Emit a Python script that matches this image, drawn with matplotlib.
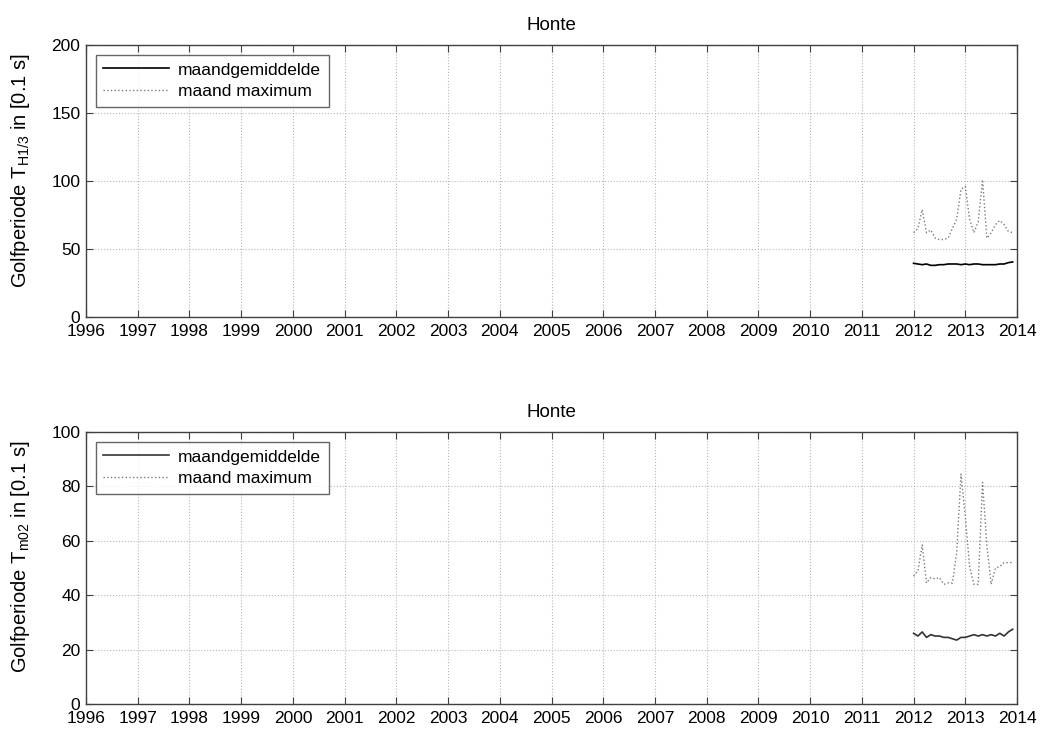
import matplotlib
matplotlib.use("Agg")
import matplotlib.pyplot as plt
import numpy as np
import pandas as pd

plt.rcParams['font.family'] = ['Liberation Sans', 'DejaVu Sans']

# Monthly periods (first of month), Jan 2012 - Dec 2013
months = pd.date_range('2012-01-01', periods=24, freq='MS')
xyear = np.array([d.year + (d.month - 1) / 12 for d in months])

# Golfperiode TH1/3 [0.1 s]
th13_mean = [39.5, 39, 38.5, 39, 38, 38, 38.5, 38.5, 39, 39, 39, 38.5,
             39, 38.5, 39, 39, 38.5, 38.5, 38.5, 38.5, 39, 39, 40, 40.5]
th13_max = [62, 65, 79, 62, 64, 58, 57, 57, 58, 65, 72, 94,
            96, 72, 62, 70, 101, 58, 62, 68, 71, 68, 63, 62]

# Golfperiode Tm02 [0.1 s]
tm02_mean = [26, 25, 26.5, 24.5, 25.5, 25, 25, 24.5, 24.5, 24, 23.5, 24.5,
             24.5, 25, 25.5, 25, 25.5, 25, 25.5, 25, 26, 25, 26.5, 27.5]
tm02_max = [47, 49, 58.5, 44.5, 46.5, 46, 46.5, 44, 44.5, 44.5, 55.5, 84.5,
            69, 50.5, 44, 44, 81.5, 58.5, 44, 50, 50.5, 52, 52, 52]

years = list(range(1996, 2015))
title = 'Honte'
ylabels = ['Golfperiode T$_{\\mathregular{H1/3}}$ in [0.1 s]',
           'Golfperiode T$_{\\mathregular{m02}}$ in [0.1 s]']
yticks_list = [[0, 50, 100, 150, 200], [0, 20, 40, 60, 80, 100]]

fig = plt.figure(figsize=(10.4, 7.31), dpi=100)
axes_rects = [[0.0827, 0.5663, 0.8952, 0.3721],
              [0.0827, 0.0369, 0.8952, 0.3721]]
series = [(th13_mean, th13_max), (tm02_mean, tm02_max)]
mean_colors = ['black', '#333333']

for rect, (mean, mx), ylab, yt, mc in zip(axes_rects, series, ylabels,
                                          yticks_list, mean_colors):
    ax = fig.add_axes(rect)
    ax.plot(xyear, mean, color=mc, lw=1.2, label='maandgemiddelde')
    ax.plot(xyear, mx, color='#7a7a7a', lw=1.0, ls=':', label='maand maximum')
    ax.set_xlim(years[0], years[-1])
    ax.set_ylim(yt[0], yt[-1])
    ax.set_xticks(years)
    ax.set_xticklabels([str(y) for y in years])
    ax.set_yticks(yt)
    ax.grid(True, color='#b8b8b8', ls=':', lw=0.8)
    ax.tick_params(direction='in', top=True, right=True, length=5,
                   labelsize=12.5, color='#404040')
    ax.tick_params(axis='x', pad=5)
    ax.tick_params(axis='y', pad=4)
    for s in ax.spines.values():
        s.set_color('#404040')
        s.set_linewidth(1.0)
    ax.set_title(title, fontsize=13.5, pad=11)
    ax.set_ylabel(ylab, fontsize=14.5)
    ax.yaxis.set_label_coords(-0.058, 0.54)
    leg = ax.legend(loc='upper left', fontsize=12.5, frameon=True, fancybox=False,
                    borderaxespad=0.55, handlelength=3.8, borderpad=0.45,
                    labelspacing=0.35, handletextpad=0.5)
    leg.get_frame().set_edgecolor('#404040')
    leg.get_frame().set_linewidth(1.0)

fig.savefig('out.png', dpi=100)
